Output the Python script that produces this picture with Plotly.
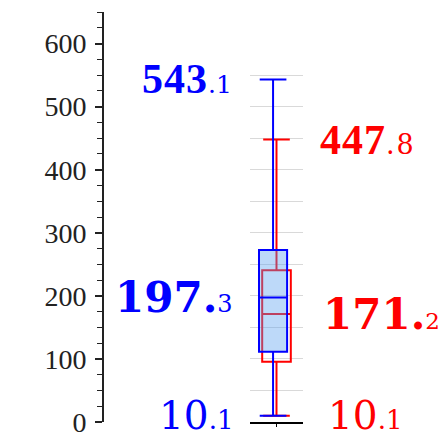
import plotly.graph_objects as go

# ---- data ----
series = ["blue", "red"]
lower = [10.1, 10.1]
q1 = [111.5, 95.5]
median = [197.3, 171.2]
q3 = [272.5, 240.5]
upper = [543.1, 447.8]
y_ticks = [0, 100, 200, 300, 400, 500, 600]

BLUE = "#0000ff"
RED = "#ff0000"

fig = go.Figure()

# invisible trace to register the free left axis
fig.add_trace(go.Scatter(x=[None], y=[None], xaxis="x", yaxis="y",
                         showlegend=False, hoverinfo="skip"))

# red box first (drawn underneath)
fig.add_trace(go.Box(
    x=[0], q1=[q1[1]], median=[median[1]], q3=[q3[1]],
    lowerfence=[lower[1]], upperfence=[upper[1]],
    xaxis="x", yaxis="y2", width=0.54, whiskerwidth=0.93,
    line=dict(color=RED, width=2), fillcolor="rgba(0,0,0,0)",
    boxpoints=False, showlegend=False, hoverinfo="skip"))

# blue box on top
fig.add_trace(go.Box(
    x=[-0.065], q1=[q1[0]], median=[median[0]], q3=[q3[0]],
    lowerfence=[lower[0]], upperfence=[upper[0]],
    xaxis="x", yaxis="y2", width=0.53, whiskerwidth=0.95,
    line=dict(color=BLUE, width=2), fillcolor="rgba(90,160,240,0.4)",
    boxpoints=False, showlegend=False, hoverinfo="skip"))


def label(v, big_font, big_size, small_font, small_size, bold_big, dot_big,
          spacing=0, small_spacing=0):
    s = f"{v:.1f}"
    ip, dp = s.split(".")
    big = ip + ("." if dot_big else "")
    small = ("" if dot_big else ".") + dp
    if bold_big:
        big = f"<b>{big}</b>"
    ls = f";letter-spacing:{spacing}px" if spacing else ""
    ss = f";letter-spacing:{small_spacing}px" if small_spacing else ""
    return (f"<span style='font-family:{big_font};font-size:{big_size}px{ls}'>{big}</span>"
            f"<span style='font-family:{small_font};font-size:{small_size}px{ss}'>{small}</span>")


annos = []
BX = 0.3704
RX = 0.6125
# blue labels (right aligned, left of boxes)
annos.append(dict(x=BX, y=upper[0], xanchor="right", xshift=1,
                  text=label(upper[0], "Liberation Serif", 42, "DejaVu Serif", 25, True, False, 1),
                  color=BLUE))
annos.append(dict(x=BX, y=median[0], xanchor="right", xshift=2,
                  text=label(median[0], "DejaVu Serif", 42, "DejaVu Serif", 24, True, True, 0),
                  color=BLUE))
annos.append(dict(x=BX, y=lower[0], xanchor="right", xshift=2,
                  text=label(lower[0], "DejaVu Serif", 39, "DejaVu Serif", 26, False, False),
                  color=BLUE))
# red labels (left aligned, right of boxes)
annos.append(dict(x=RX, y=upper[1], xanchor="left", xshift=0,
                  text=label(upper[1], "Liberation Serif", 42, "DejaVu Serif", 27, True, False, 1, 2),
                  color=RED))
annos.append(dict(x=RX, y=median[1], xanchor="left", xshift=3,
                  text=label(median[1], "DejaVu Serif", 42, "DejaVu Serif", 23, True, True, 0),
                  color=RED))
annos.append(dict(x=RX, y=lower[1], xanchor="left", xshift=8,
                  text=label(lower[1], "DejaVu Serif", 39, "DejaVu Serif", 26, False, False),
                  color=RED))

for a in annos:
    fig.add_annotation(x=a["x"], y=a["y"], xref="paper", yref="y",
                       xanchor=a["xanchor"], yanchor="middle", text=a["text"],
                       xshift=a["xshift"],
                       showarrow=False, font=dict(color=a["color"], size=20,
                                                  family="Liberation Serif"))

fig.update_layout(
    width=446, height=439,
    margin=dict(l=95, r=0, t=4, b=25, autoexpand=False),
    paper_bgcolor="white", plot_bgcolor="white",
    boxmode="overlay", showlegend=False, hovermode=False,
    xaxis=dict(domain=[0.4188, 0.5698], range=[-0.5, 0.5], anchor="y2",
               showline=True, linecolor="black", linewidth=2,
               ticks="outside", tickvals=[0], ticklen=3, tickcolor="black",
               showticklabels=False, showgrid=False, zeroline=False),
    yaxis2=dict(domain=[0, 570 / 650], range=[0, 570], anchor="x",
                showgrid=True, gridcolor="#d9d9d9", gridwidth=1, dtick=50,
                showticklabels=False, ticks="", zeroline=False, showline=False),
    yaxis=dict(domain=[0, 1], range=[0, 650], anchor="free", position=0,
               showline=True, linecolor="#222", linewidth=2,
               ticks="outside", ticklen=7, tickwidth=1.5, tickcolor="#222",
               tickvals=y_ticks, ticklabelstandoff=3,
               minor=dict(dtick=25, tick0=0, ticks="outside", ticklen=5,
                          tickwidth=1.2, tickcolor="#222"),
               tickfont=dict(family="Liberation Serif", size=28, color="#222"),
               showgrid=False, zeroline=False),
)

fig.write_html("out.html")
